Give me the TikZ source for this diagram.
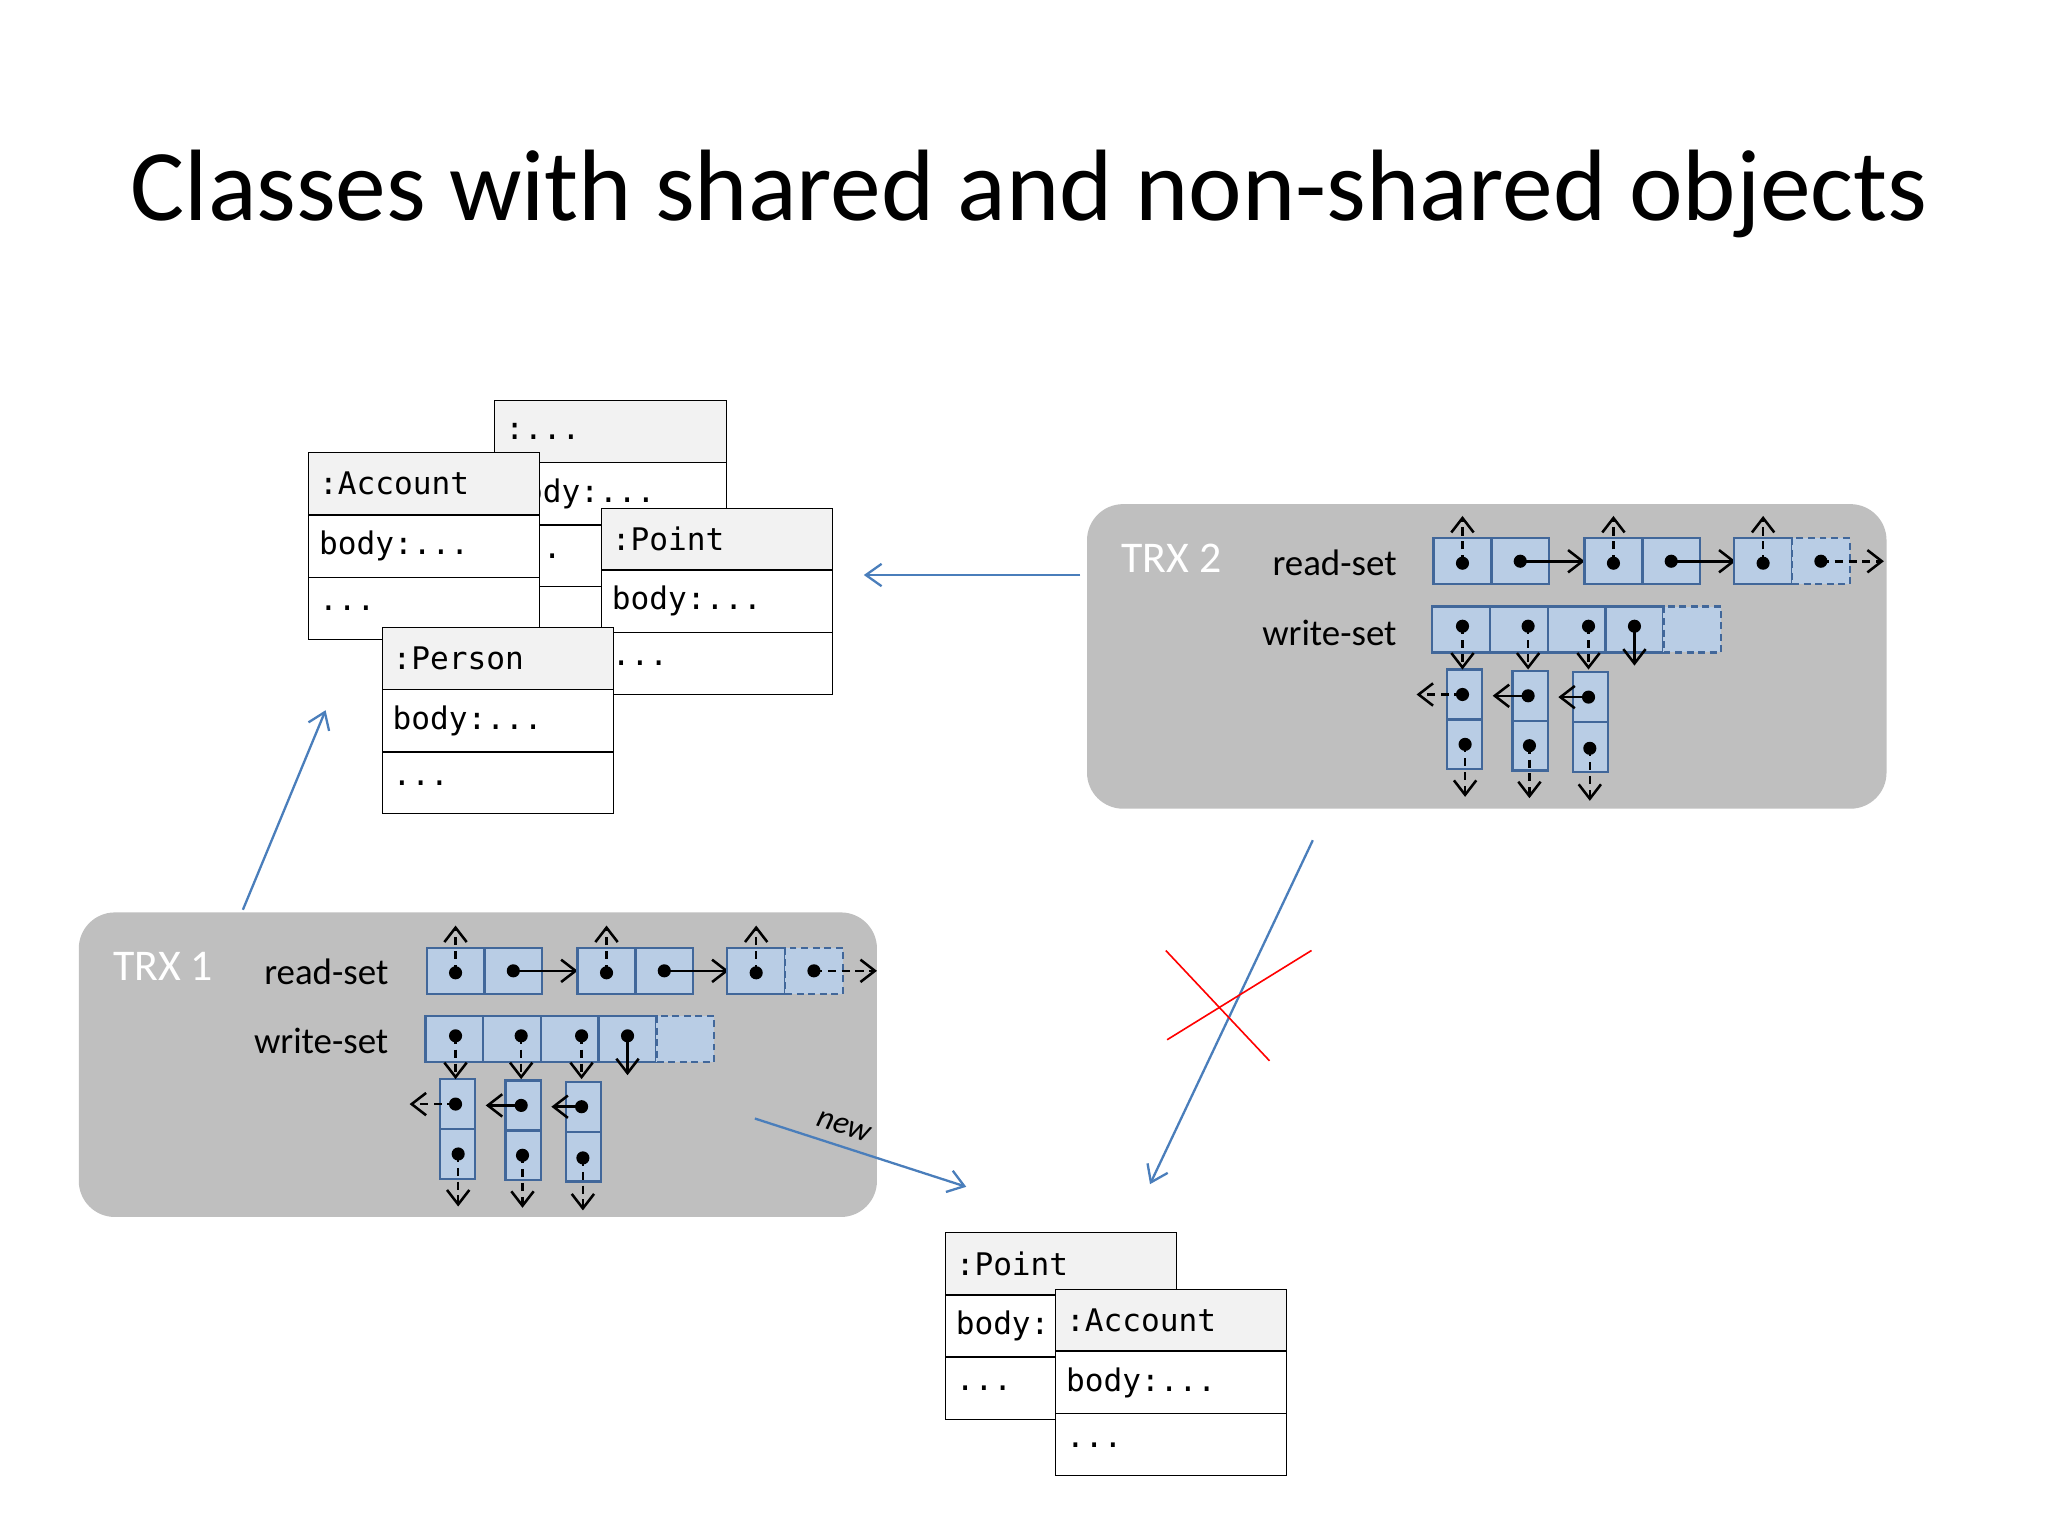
\documentclass[tikz,border=0pt]{standalone}
\usepackage{fontspec}
\setmainfont{Carlito}
\setmonofont{DejaVu Sans Mono}
\usetikzlibrary{arrows.meta}
\definecolor{cellfill}{HTML}{B9CDE5}
\definecolor{celldraw}{HTML}{41679A}
\definecolor{trxgray}{HTML}{BFBFBF}
\definecolor{linkblue}{HTML}{4A7EBB}
\begin{document}
\begin{tikzpicture}[x=0.02cm, y=-0.02cm,
  cell/.style={draw=celldraw, fill=cellfill, line width=1pt},
  ghost/.style={cell, dash pattern=on 3pt off 2pt},
  ptr/.style={-{Straight Barb[length=2.2mm,width=3.4mm]}, line width=1.1pt},
  dptr/.style={ptr, dash pattern=on 3.5pt off 2.5pt},
  trxbox/.style={fill=trxgray, rounded corners=0.55cm},
  trxlabel/.style={text=white, font=\fontsize{19}{19}\selectfont, anchor=west},
  setlabel/.style={font=\fontsize{16}{16}\selectfont, anchor=east},
  hdr/.style={draw, fill=gray!10, minimum width=3.52cm, minimum height=0.94cm,
    inner sep=0pt, text width=3.2cm, font=\ttfamily\fontsize{13.5}{13.5}\selectfont},
  row/.style={hdr, fill=white},
  link/.style={draw=linkblue, line width=1pt, -{Straight Barb[length=2.4mm,width=3.4mm]}},
  cross/.style={draw=red, line width=0.7pt},
  trx/.pic={
    % read-set
    \foreach \o in {0,115}{
      \draw[cell] (\o,0) rectangle ++(44,35);
      \draw[cell] (\o+44,0) rectangle ++(44,35);
      \fill (\o+22,19) circle (5);
      \draw[dptr] (\o+22,19) -- (\o+22,-17);
      \fill (\o+66,17.5) circle (5);
      \draw[ptr] (\o+66,17.5) -- (\o+115,17.5);
    }
    \draw[cell] (229,0) rectangle ++(44,35);
    \draw[ghost] (273,0) rectangle ++(44,35);
    \fill (251,19) circle (5);
    \draw[dptr] (251,19) -- (251,-17);
    \fill (295,17.5) circle (5);
    \draw[dptr] (295,17.5) -- (343,17.5);
    % write-set
    \foreach \o in {-1,43,87,131}{\draw[cell] (\o,52) rectangle ++(44,35);}
    \draw[ghost] (175,52) rectangle ++(44,35);
    % chains
    \foreach \c/\d in {10/0,60/1,106/2}{
      \draw[cell] (\c,100+\d) rectangle ++(27,38);
      \draw[cell] (\c,138+\d) rectangle ++(27,38);
    }
    \foreach \x in {22,72,118}{
      \fill (\x,67) circle (5);
      \draw[dptr] (\x,67) -- (\x,100);
    }
    \fill (153,67) circle (5);
    \draw[ptr] (153,67) -- (153,97);
    \fill (22,119) circle (5);
    \draw[dptr] (22,119) -- (-13,119);
    \fill (72,120) circle (5);
    \draw[ptr] (72,120) -- (45,120);
    \fill (118,121) circle (5);
    \draw[ptr] (118,121) -- (95,121);
    \foreach \x/\y in {24/157,73/158,119/160}{
      \fill (\x,\y) circle (5);
      \draw[dptr] (\x,\y) -- (\x,\y+40);
    }
  }
]
\useasboundingbox (0,0) rectangle (1560,1170);

\node[font=\fontsize{44}{44}\selectfont] (title) at (784,148) {Classes with shared and non-shared objects};

% TRX 1
\fill[trxbox] (60,695) rectangle (668,927);
\node[trxlabel] (t1) at (80,736) {TRX 1};
\node[setlabel] (r1) at (302,740) {read-set};
\node[setlabel] (w1) at (302,793) {write-set};
\pic at (325,722) {trx};

% TRX 2
\fill[trxbox] (828,384) rectangle (1437,616);
\node[trxlabel] (t2) at (848,425) {TRX 2};
\node[setlabel] (r2) at (1070,429) {read-set};
\node[setlabel] (w2) at (1070,482) {write-set};
\pic at (1092,410) {trx};

% shared objects
\node[hdr] (oh) at (465,328.5) {:...};
\node[row] (ob) at (465,376) {body:...};
\node[row] (od) at (465,423.5) {...};
\node[hdr] (ah) at (323,368.5) {:Account};
\node[row] (ab) at (323,416) {body:...};
\node[row] (ad) at (323,463.5) {...};
\node[hdr] (ph) at (546,410.5) {:Point};
\node[row] (pb) at (546,458) {body:...};
\node[row] (pd) at (546,505.5) {...};
\node[hdr] (eh) at (379,501.5) {:Person};
\node[row] (eb) at (379,549) {body:...};
\node[row] (ed) at (379,596.5) {...};

% non-shared objects
\node[hdr] (qh) at (808,962.5) {:Point};
\node[row] (qb) at (808,1010) {body:...};
\node[row] (qd) at (808,1057.5) {...};
\node[hdr] (bh) at (892,1005.5) {:Account};
\node[row] (bb) at (892,1053) {body:...};
\node[row] (bd) at (892,1100.5) {...};

% links
\coordinate (a1s) at (185,693);
\coordinate (a1e) at (248,541);
\coordinate (a2s) at (823,438);
\coordinate (a2e) at (658,438);
\coordinate (a3s) at (1000,640);
\coordinate (a3e) at (876,902);
\coordinate (a4s) at (575,852);
\coordinate (a4e) at (736,904);
\draw[link] (a1s) -- (a1e);
\draw[link] (a2s) -- (a2e);
\draw[link] (a3s) -- (a3e);
\draw[link] (a4s) -- (a4e);
\node[rotate=-18, font=\itshape\fontsize{14}{14}\selectfont] (new) at (643,858) {new};

% red cross
\coordinate (x1) at (888,724);
\coordinate (x2) at (967,808);
\coordinate (x3) at (889,792);
\coordinate (x4) at (999,724);
\draw[cross] (x1) -- (x2);
\draw[cross] (x3) -- (x4);
\end{tikzpicture}
\end{document}
